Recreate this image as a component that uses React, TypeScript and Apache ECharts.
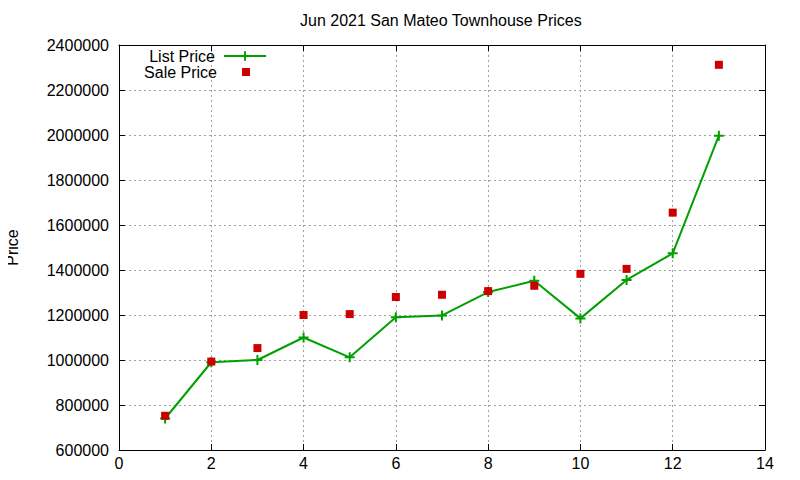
import React, { useEffect, useRef } from 'react';
import * as echarts from 'echarts';

const FONT = '"Liberation Sans", Arial, sans-serif';
const GREEN = '#00a000';
const RED = '#cc0000';

const months = [1, 2, 3, 4, 5, 6, 7, 8, 9, 10, 11, 12, 13];
const listPrices = [
  740000, 990000, 1000000, 1100000, 1012000, 1190000, 1198000, 1302000, 1352000, 1185000,
  1356000, 1474000, 1997000,
];
const salePrices = [
  752000, 993000, 1053000, 1200000, 1204000, 1280000, 1290000, 1306000, 1330000, 1383000,
  1405000, 1655000, 2312000,
];

const PLUS = 'path://M4,0H6V4H10V6H6V10H4V6H0V4H4Z';

export default function App() {
  const chartRef = useRef<HTMLDivElement>(null);

  useEffect(() => {
    if (!chartRef.current) return;
    const chart = echarts.init(chartRef.current, null, { renderer: 'svg' });

    const tickStyle = { show: true, inside: true, length: 6, lineStyle: { color: '#000', width: 1 } };
    const axisLine = { show: true, onZero: false, lineStyle: { color: '#000', width: 1 } };
    const gridLine = { show: true, lineStyle: { color: '#a0a0a0', type: [2, 3] as number[], width: 1 } };

    chart.setOption({
      animation: false,
      backgroundColor: '#fff',
      textStyle: { fontFamily: FONT },
      title: {
        text: 'Jun 2021 San Mateo Townhouse Prices',
        left: 300,
        top: 12,
        padding: 0,
        textStyle: { fontFamily: FONT, fontSize: 16, fontWeight: 'normal', color: '#000' },
      },
      legend: [
        {
          data: ['List Price'],
          right: 533,
          top: 48,
          padding: 0,
          align: 'right',
          itemWidth: 42,
          itemHeight: 12,
          formatter: '{a|{name}}',
          textStyle: {
            fontFamily: FONT,
            fontSize: 16,
            color: '#000',
            rich: { a: { fontFamily: FONT, fontSize: 16, color: '#000', padding: [0, 4, 0, 0] } },
          },
        },
        {
          data: ['Sale Price'],
          right: 550,
          top: 64,
          padding: 0,
          align: 'right',
          itemWidth: 8,
          itemHeight: 8,
          icon: 'rect',
          formatter: '{a|{name}}',
          textStyle: {
            fontFamily: FONT,
            fontSize: 16,
            color: '#000',
            rich: { a: { fontFamily: FONT, fontSize: 16, color: '#000', padding: [0, 20, 0, 0] } },
          },
        },
      ],
      grid: { left: 119, top: 45, right: 35, bottom: 30, containLabel: false, outerBoundsMode: 'none' },
      xAxis: [
        {
          type: 'value',
          position: 'bottom',
          min: 0,
          max: 14,
          interval: 2,
          axisLine,
          axisTick: tickStyle,
          axisLabel: { fontFamily: FONT, fontSize: 16, color: '#000', margin: 5 },
          splitLine: gridLine,
        },
        {
          type: 'value',
          position: 'top',
          min: 0,
          max: 14,
          interval: 2,
          axisLine,
          axisTick: tickStyle,
          axisLabel: { show: false },
          splitLine: { show: false },
        },
      ],
      yAxis: [
        {
          type: 'value',
          position: 'left',
          min: 600000,
          max: 2400000,
          interval: 200000,
          name: 'Price',
          nameLocation: 'middle',
          nameRotate: 90,
          nameGap: 99,
          nameTextStyle: { fontFamily: FONT, fontSize: 16, color: '#000' },
          axisLine,
          axisTick: tickStyle,
          axisLabel: {
            fontFamily: FONT,
            fontSize: 16,
            color: '#000',
            margin: 10,
            formatter: (v: number) => String(v),
          },
          splitLine: gridLine,
        },
        {
          type: 'value',
          position: 'right',
          min: 600000,
          max: 2400000,
          interval: 200000,
          axisLine,
          axisTick: tickStyle,
          axisLabel: { show: false },
          splitLine: { show: false },
        },
      ],
      series: [
        {
          name: 'List Price',
          type: 'line',
          data: months.map((m, i) => [m, listPrices[i]]),
          symbol: PLUS,
          symbolSize: 10,
          showAllSymbol: true,
          color: GREEN,
          lineStyle: { color: GREEN, width: 2 },
          itemStyle: { color: GREEN },
          z: 2,
        },
        {
          name: 'Sale Price',
          type: 'scatter',
          data: months.map((m, i) => [m, salePrices[i]]),
          symbol: 'rect',
          symbolSize: 8,
          itemStyle: { color: RED, opacity: 1 },
          z: 3,
        },
      ],
    });

    return () => {
      chart.dispose();
    };
  }, []);

  return <div ref={chartRef} style={{ width: 800, height: 480, margin: -8 }} />;
}
